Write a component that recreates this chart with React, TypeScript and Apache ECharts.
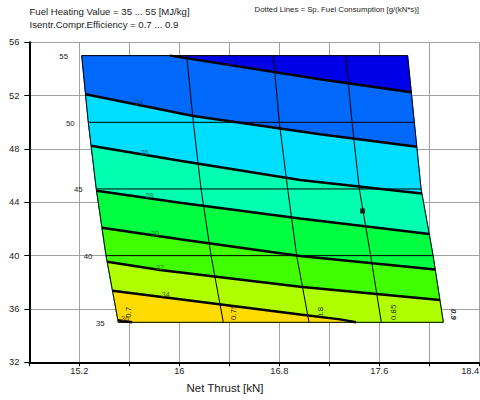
import React, { useEffect, useRef } from 'react';
import * as echarts from 'echarts';

// Fuel heating value levels (y) and efficiency curves (thrust x at each HV level)
const hvLevels = [55, 50, 45, 40, 35];
const hvLabels = ['55', '50', '45', '40', '35'];
const effLabels = ['0.7', '0.75', '0.8', '0.85', '0.9'];
const eff070 = [15.219, 15.272, 15.336, 15.414, 15.512];
const eff075 = [16.059, 16.112, 16.174, 16.254, 16.352];
const eff080 = [16.752, 16.8, 16.867, 16.939, 17.038];
const eff085 = [17.331, 17.382, 17.44, 17.531, 17.616];
const eff090 = [17.827, 17.88, 17.934, 18.03, 18.112];
const effLines = [eff070, eff075, eff080, eff085, eff090];

// Specific fuel consumption contours [thrust, y]
const sfcLevels = ['22', '24', '26', '28', '30', '32', '34', '36'];
const c22 = [[15.926, 55], [17.125, 53.225], [17.856, 52.25]];
const c24 = [[15.25, 52.1], [16.112, 50.473], [17.126, 49.1], [17.9, 48.17]];
const c26 = [[15.294, 48.245], [16.006, 47.12], [16.966, 45.67], [17.94, 44.66]];
const c28 = [[15.338, 44.87], [16.006, 43.97], [16.966, 42.785], [17.999, 41.62]];
const c30 = [[15.381, 42.095], [16.006, 41.225], [16.966, 39.97], [18.047, 38.96]];
const c32 = [[15.423, 39.545], [15.846, 38.92], [16.966, 37.67], [18.085, 36.67]];
const c34 = [[15.466, 37.37], [15.846, 36.92], [16.966, 35.585], [17.286, 35.22], [17.414, 35]];
const c36 = [[15.509, 35.15], [15.622, 35]];
const contours = [c22, c24, c26, c28, c30, c32, c34, c36];

const designPoint = [17.466, 43.35];

// styles
const bandColors = ['#0000E8', '#0068FA', '#00DEFF', '#00FFB0', '#00FF40', '#40FF00', '#B0FF00', '#FFDC00', '#FF9A00'];
const contourLabelColors = ['#1a1a80', '#1a3c80', '#006070', '#00704a', '#107010', '#307000', '#605000', '#604000'];
const contourLabelAt = [16.411, 15.678, 15.722, 15.76, 15.806, 15.846, 15.891, 15.566];
const FONT = 'Liberation Sans, Arial, sans-serif';

const boundary = [
  [eff070[0], hvLevels[0]],
  [eff090[0], hvLevels[0]],
  [eff090[1], hvLevels[1]],
  [eff090[2], hvLevels[2]],
  [eff090[3], hvLevels[3]],
  [eff090[4], hvLevels[4]],
  [eff070[4], hvLevels[4]],
  [eff070[3], hvLevels[3]],
  [eff070[2], hvLevels[2]],
  [eff070[1], hvLevels[1]],
];

function locate(p: number[], bnd: number[][]) {
  const n = bnd.length;
  let best = 0;
  let bestD = Infinity;
  for (let i = 0; i < n; i++) {
    const a = bnd[i];
    const b = bnd[(i + 1) % n];
    const dx = b[0] - a[0];
    const dy = b[1] - a[1];
    const L = dx * dx + dy * dy;
    let t = L ? ((p[0] - a[0]) * dx + (p[1] - a[1]) * dy) / L : 0;
    t = Math.max(0, Math.min(1, t));
    const qx = a[0] + t * dx;
    const qy = a[1] + t * dy;
    const d = (p[0] - qx) ** 2 + (p[1] - qy) ** 2;
    if (d < bestD) {
      bestD = d;
      best = i;
    }
  }
  return best;
}

function regionBelow(line: number[][], bnd: number[][]) {
  const n = bnd.length;
  const s = locate(line[0], bnd);
  const e = locate(line[line.length - 1], bnd);
  const pts = line.slice();
  for (let k = 1; k <= n; k++) {
    const j = (e + k) % n;
    pts.push(bnd[j]);
    if (j === s) break;
  }
  return pts;
}

function interpY(line: number[][], x: number) {
  for (let i = 0; i < line.length - 1; i++) {
    const a = line[i];
    const b = line[i + 1];
    if (x >= a[0] && x <= b[0]) {
      const t = (x - a[0]) / (b[0] - a[0]);
      return a[1] + t * (b[1] - a[1]);
    }
  }
  return x < line[0][0] ? line[0][1] : line[line.length - 1][1];
}

type Lbl = { x: number; y: number; dx: number; dy: number; text: string; color: string; size: number; rot: number; bold?: boolean; italic?: boolean; va: string };
const labelItems: Lbl[] = [];
hvLevels.forEach((hv, k) => {
  labelItems.push({ x: eff070[k], y: hv, dx: -18, dy: 1, text: hvLabels[k], color: '#222', size: 7.8, rot: 0, va: 'middle' });
});
effLines.forEach((ln, j) => {
  const last = ln.length - 1;
  const isLast = j === effLines.length - 1;
  labelItems.push({ x: ln[last], y: hvLevels[last], dx: isLast ? 10 : 10 + (j === 2 ? 1 : 0) + (j === 3 ? 2 : 0), dy: isLast ? -8 : -10, text: effLabels[j], color: '#222', size: 7.8, rot: isLast ? -Math.PI / 2 : Math.PI / 2, bold: isLast, italic: isLast, va: 'middle' });
});
contours.forEach((c, i) => {
  const x = contourLabelAt[i];
  labelItems.push({ x, y: interpY(c, x), dx: 0, dy: 1, text: sfcLevels[i], color: contourLabelColors[i], size: 7.2, rot: 0, va: 'bottom' });
});

export default function App() {
  const ref = useRef<HTMLDivElement>(null);
  useEffect(() => {
    if (!ref.current) return;
    const chart = echarts.init(ref.current, undefined, { renderer: 'svg' });

    const lineSeries: any[] = [];
    effLines.forEach((ln) => {
      lineSeries.push({
        type: 'line',
        data: ln.map((x, k) => [x, hvLevels[k]]),
        showSymbol: false,
        symbol: 'none',
        lineStyle: { color: '#000', width: 1 },
        silent: true,
        z: 3,
      });
    });
    hvLevels.forEach((hv, k) => {
      lineSeries.push({
        type: 'line',
        data: [[eff070[k], hv], [eff090[k], hv]],
        showSymbol: false,
        symbol: 'none',
        lineStyle: { color: '#000', width: 1 },
        silent: true,
        z: 3,
      });
    });
    contours.forEach((c) => {
      lineSeries.push({
        type: 'line',
        data: c,
        showSymbol: false,
        symbol: 'none',
        lineStyle: { color: '#000', width: 2.4 },
        silent: true,
        z: 4,
      });
    });

    chart.setOption({
      animation: false,
      textStyle: { fontFamily: FONT },
      grid: { left: 29.3, right: 0.7, top: 42.3, bottom: 37.7, containLabel: false, outerBoundsMode: 'none' },
      xAxis: {
        type: 'value',
        min: 14.8,
        max: 18.4,
        interval: 0.4,
        axisLine: { show: true, onZero: false, lineStyle: { color: '#000', width: 2 } },
        axisTick: { show: true, length: 4, lineStyle: { color: '#000' } },
        splitLine: { show: true, lineStyle: { color: '#a0a0a0', width: 1 } },
        axisLabel: {
          color: '#222',
          fontSize: 9.3,
          margin: 4,
          fontFamily: FONT,
          showMaxLabel: true,
          alignMaxLabel: 'right',
          hideOverlap: false,
          formatter: (v: number) => {
            const r = (v - 15.2) / 0.8;
            if (r < -0.01 || Math.abs(r - Math.round(r)) > 0.01) return '';
            return String(Math.round(v * 10) / 10);
          },
        },
      },
      yAxis: {
        type: 'value',
        min: 32,
        max: 56,
        interval: 4,
        axisLine: { show: true, onZero: false, lineStyle: { color: '#000', width: 2 } },
        axisTick: { show: true, length: 5, lineStyle: { color: '#000' } },
        splitLine: { show: true, lineStyle: { color: '#a0a0a0', width: 1 } },
        axisLabel: { color: '#222', fontSize: 9.3, margin: 10, fontFamily: FONT },
      },
      graphic: [
        { type: 'text', x: 29.5, y: 11, style: { text: 'Fuel Heating Value = 35 ... 55 [MJ/kg]', fontSize: 9.6, fontFamily: FONT, fill: '#222', align: 'left', verticalAlign: 'middle' } },
        { type: 'text', x: 29.5, y: 24.5, style: { text: 'Isentr.Compr.Efficiency = 0.7 ... 0.9', fontSize: 9.6, fontFamily: FONT, fill: '#222', align: 'left', verticalAlign: 'middle' } },
        { type: 'text', x: 254.5, y: 9.5, style: { text: 'Dotted Lines = Sp. Fuel Consumption [g/(kN*s)]', fontSize: 7.8, fontFamily: FONT, fill: '#222', align: 'left', verticalAlign: 'middle' } },
        { type: 'text', x: 225, y: 388, style: { text: 'Net Thrust [kN]', fontSize: 11.5, fontFamily: FONT, fill: '#222', align: 'center', verticalAlign: 'middle' } },
      ],
      series: [
        {
          type: 'custom',
          silent: true,
          z: 2,
          clip: false,
          data: bandColors.map((_, i) => [i, 40]),
          renderItem: (params: any, api: any) => {
            const b = api.value(0) as number;
            const bnd = boundary.map((p) => api.coord(p));
            const pts = b === 0 ? bnd : regionBelow(contours[b - 1].map((p) => api.coord(p)), bnd);
            return {
              type: 'polygon',
              shape: { points: pts },
              style: { fill: bandColors[b], stroke: bandColors[b], lineWidth: 0.5 },
            };
          },
        },
        ...lineSeries,
        {
          type: 'custom',
          silent: true,
          z: 6,
          clip: false,
          data: labelItems.map((_, i) => [i, 40]),
          renderItem: (params: any, api: any) => {
            const it = labelItems[api.value(0) as number];
            const p = api.coord([it.x, it.y]);
            return {
              type: 'text',
              x: p[0] + it.dx,
              y: p[1] + it.dy,
              rotation: it.rot,
              style: {
                text: it.text,
                fill: it.color,
                fontSize: it.size,
                fontFamily: FONT,
                fontWeight: it.bold ? 'bold' : 'normal',
                fontStyle: it.italic ? 'italic' : 'normal',
                align: 'center',
                verticalAlign: it.va,
              },
            };
          },
        },
        {
          type: 'scatter',
          data: [designPoint],
          symbol: 'rect',
          symbolSize: 5,
          itemStyle: { color: '#000' },
          silent: true,
          z: 7,
        },
      ],
    });
    return () => chart.dispose();
  }, []);
  return <div ref={ref} style={{ position: 'absolute', left: 0, top: 0, width: 480, height: 400 }} />;
}
